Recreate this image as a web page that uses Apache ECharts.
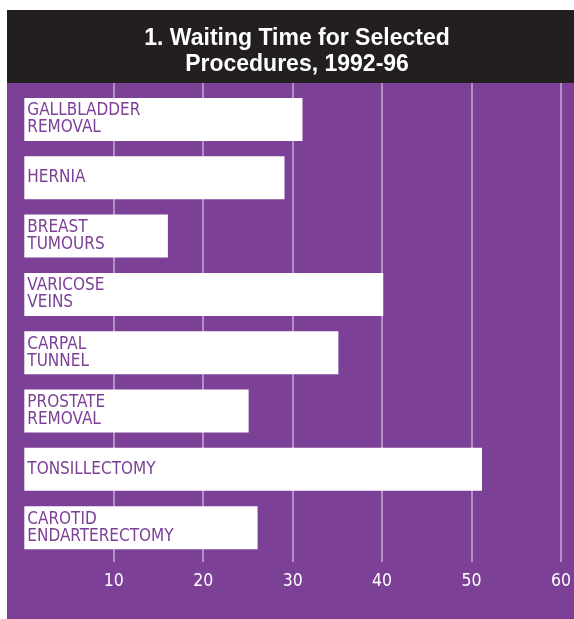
<!DOCTYPE html>
<html>
<head>
<meta charset="utf-8">
<script src="https://cdn.jsdelivr.net/npm/echarts@6/dist/echarts.min.js"></script>
<style>
html,body{margin:0;padding:0;background:#fff;}
#chart{width:574px;height:619px;}
</style>
</head>
<body>
<div id="chart"></div>
<script>
var titleLines = ['1. Waiting Time for Selected', 'Procedures, 1992-96'];
var categories = [
  'GALLBLADDER\nREMOVAL',
  'HERNIA',
  'BREAST\nTUMOURS',
  'VARICOSE\nVEINS',
  'CARPAL\nTUNNEL',
  'PROSTATE\nREMOVAL',
  'TONSILLECTOMY',
  'CAROTID\nENDARTERECTOMY'
];
var values = [31, 29, 16, 40, 35, 25, 51, 26];
var axisMin = 0, axisMax = 60, axisStep = 10;

var PURPLE = '#7C4097';
var BLACK = '#231F20';
var GRIDLINE = '#C4AAD3';
var NARROW = '"DejaVu Sans Condensed", "Liberation Sans", sans-serif';

var chart = echarts.init(document.getElementById('chart'));
chart.setOption({
  animation: false,
  backgroundColor: '#ffffff',
  graphic: [
    { type: 'rect', z: -10, shape: { x: 7, y: 10, width: 567, height: 73 }, style: { fill: BLACK } },
    { type: 'rect', z: -10, shape: { x: 7, y: 83, width: 567, height: 536 }, style: { fill: PURPLE } }
  ],
  title: {
    text: titleLines.join('\n'),
    left: 292,
    textAlign: 'center',
    top: 21,
    textStyle: {
      color: '#ffffff',
      fontFamily: '"Liberation Sans", Arial, sans-serif',
      fontWeight: 'bold',
      fontSize: 23,
      lineHeight: 26
    }
  },
  grid: [
    { left: 24.3, right: 11.3, top: 90.35, bottom: 62.2, containLabel: false },
    { left: 24.3, right: 11.3, top: 83, bottom: 57, containLabel: false }
  ],
  xAxis: [
    {
      type: 'value', gridIndex: 0, min: axisMin, max: axisMax, interval: axisStep,
      axisLine: { show: false }, axisTick: { show: false }, axisLabel: { show: false },
      splitLine: { show: false }
    },
    {
      type: 'value', gridIndex: 1, min: axisMin, max: axisMax, interval: axisStep,
      axisLine: { show: false }, axisTick: { show: false },
      splitLine: { show: true, showMinLine: false, lineStyle: { color: GRIDLINE, width: 1.5 } },
      axisLabel: {
        show: true, showMinLabel: false, margin: 10,
        color: '#ffffff', fontFamily: NARROW, fontSize: 17.5,
        formatter: function (v) { return v === 0 ? '' : String(v); }
      }
    }
  ],
  yAxis: [
    {
      type: 'category', gridIndex: 0, data: categories, inverse: true,
      axisLine: { show: false }, axisTick: { show: false }, axisLabel: { show: false },
      splitLine: { show: false }
    },
    {
      type: 'value', gridIndex: 1, min: 0, max: 1, show: false
    }
  ],
  series: [
    {
      type: 'bar', xAxisIndex: 0, yAxisIndex: 0,
      data: values, barWidth: 43, z: 5,
      itemStyle: { color: '#ffffff' },
      label: {
        show: true, position: 'insideLeft', distance: 3,
        color: PURPLE, fontFamily: NARROW, fontSize: 17, lineHeight: 17,
        formatter: function (p) { return p.name; }
      }
    }
  ]
});
</script>
</body>
</html>
